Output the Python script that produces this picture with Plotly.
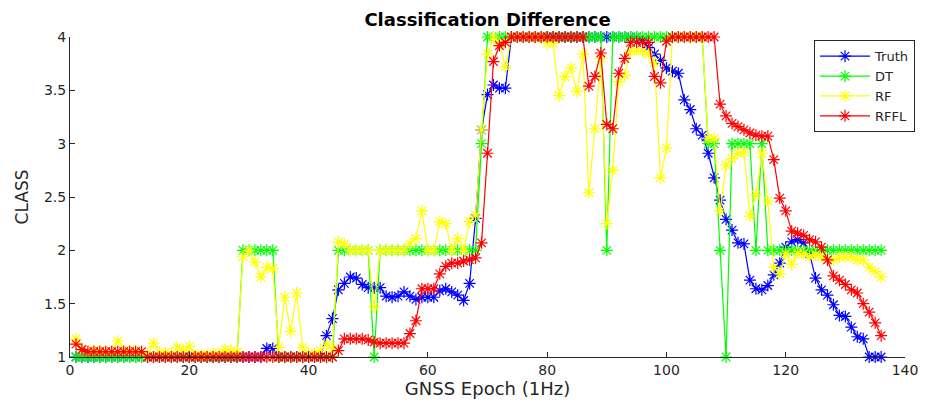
import plotly.graph_objects as go

epochs = list(range(1, 137))

truth = [
    1, 1, 1, 1, 1, 1, 1, 1, 1, 1,
    1, 1, 1, 1, 1, 1, 1, 1, 1, 1,
    1, 1, 1, 1, 1, 1, 1, 1, 1, 1,
    1, 1, 1.08, 1.08, 1, 1, 1, 1, 1, 1,
    1, 1, 1.2, 1.36, 1.63, 1.69, 1.75, 1.74, 1.68, 1.65,
    1.65, 1.65, 1.57, 1.56, 1.57, 1.61, 1.57, 1.54, 1.56, 1.56,
    1.56, 1.62, 1.64, 1.61, 1.58, 1.53, 1.69, 2.3, 3.13, 3.46,
    3.55, 3.52, 3.52, 4, 4, 4, 4, 4, 4, 4,
    4, 4, 4, 4, 4, 4, 4, 4, 4, 4,
    4, 4, 4, 4, 4, 3.97, 3.9, 3.84, 3.78, 3.71,
    3.68, 3.66, 3.41, 3.32, 3.14, 3.08, 2.91, 2.68, 2.47, 2.29,
    2.19, 2.07, 2.06, 1.72, 1.64, 1.63, 1.67, 1.77, 1.88, 2.03,
    2.08, 2.1, 2.07, 1.97, 1.74, 1.63, 1.58, 1.49, 1.39, 1.38,
    1.28, 1.19, 1.17, 1, 1, 1,
]

dt = [
    1, 1, 1, 1, 1, 1, 1, 1, 1, 1,
    1, 1, 1, 1, 1, 1, 1, 1, 1, 1,
    1, 1, 1, 1, 1, 1, 1, 1, 2, 2,
    2, 2, 2, 2, 1, 1, 1, 1, 1, 1,
    1, 1, 1, 1, 2, 2, 2, 2, 2, 2,
    1, 2, 2, 2, 2, 2, 2, 2, 2, 2,
    2, 2, 2, 2, 2, 2, 2, 2, 3, 4,
    4, 4, 4, 4, 4, 4, 4, 4, 4, 4,
    4, 4, 4, 4, 4, 4, 4, 4, 4, 2,
    4, 4, 4, 4, 4, 4, 4, 4, 4, 4,
    4, 4, 4, 4, 4, 4, 3, 3, 2, 1,
    3, 3, 3, 3, 2, 3, 2, 2, 2, 2,
    2, 2, 2, 2, 2, 2, 2, 2, 2, 2,
    2, 2, 2, 2, 2, 2,
]

rf = [
    1.17, 1.07, 1.05, 1.06, 1.06, 1.05, 1.05, 1.15, 1.06, 1.06,
    1.06, 1.05, 1.02, 1.13, 1.04, 1.04, 1.03, 1.09, 1.06, 1.1,
    1.02, 1.02, 1.02, 1.03, 1.03, 1.07, 1.06, 1.05, 1.94, 2.0,
    1.89, 1.75, 1.84, 1.83, 1.09, 1.56, 1.24, 1.6, 1.09, 1.03,
    1.03, 1.06, 1.12, 1.08, 2.08, 2.06, 2, 2, 2, 2,
    1.47, 2, 2, 2, 2, 2, 2.06, 2.11, 2.37, 2,
    2, 2.27, 2.25, 2, 2.11, 2, 2.27, 2.33, 3.13, 3.84,
    4, 3.94, 3.72, 4, 4, 4, 4, 4, 4, 3.94,
    3.94, 3.45, 3.63, 3.71, 3.49, 3.84, 2.54, 3.14, 3.8, 2.25,
    2.75, 3.58, 3.64, 3.87, 3.87, 3.87, 3.84, 3.76, 2.68, 2.96,
    4, 4, 4, 4, 4, 4, 3.05, 3.05, 2.37, 2.8,
    2.86, 2.91, 2.92, 2.32, 2.52, 2.91, 2.46, 1.84, 1.78, 1.97,
    1.87, 1.97, 1.97, 1.94, 1.96, 1.94, 1.91, 1.91, 1.94, 1.94,
    1.94, 1.91, 1.91, 1.84, 1.8, 1.75,
]

rffl = [
    1.12, 1.07, 1.05, 1.05, 1.05, 1.05, 1.05, 1.05, 1.05, 1.05,
    1.05, 1.05, 1, 1, 1, 1, 1, 1, 1, 1,
    1, 1, 1, 1, 1, 1, 1, 1, 1, 1,
    1, 1, 1, 1, 1, 1, 1, 1, 1, 1,
    1, 1, 1, 1, 1.06, 1.17, 1.17, 1.17, 1.17, 1.16,
    1.14, 1.13, 1.13, 1.13, 1.13, 1.13, 1.22, 1.34, 1.64, 1.64,
    1.64, 1.78, 1.85, 1.88, 1.88, 1.9, 1.91, 1.93, 2.07, 2.91,
    3.77, 3.92, 3.95, 4, 4, 4, 4, 4, 4, 4,
    4, 4, 4, 4, 4, 4, 3.54, 3.63, 3.85, 3.18,
    3.14, 3.66, 3.8, 3.95, 3.95, 3.95, 3.95, 3.63, 3.57, 3.96,
    4, 4, 4, 4, 4, 4, 4, 4, 3.37, 3.26,
    3.19, 3.16, 3.13, 3.1, 3.08, 3.07, 3.07, 2.85, 2.49, 2.37,
    2.18, 2.16, 2.14, 2.1, 2.08, 2.03, 1.91, 1.76, 1.72, 1.68,
    1.63, 1.6, 1.5, 1.42, 1.32, 1.2,
]

series_names = ["Truth", "DT", "RF", "RFFL"]
series_values = [truth, dt, rf, rffl]
series_colors = ["#0000FF", "#00FF00", "#FFFF00", "#FF0000"]

x_ticks = [0, 20, 40, 60, 80, 100, 120, 140]
y_ticks = [1, 1.5, 2, 2.5, 3, 3.5, 4]
y_tick_labels = ["1", "1.5", "2", "2.5", "3", "3.5", "4"]

FONT = "DejaVu Sans"
AX = "#262626"

fig = go.Figure()
for name, vals, col in zip(series_names, series_values, series_colors):
    fig.add_trace(go.Scatter(
        x=epochs, y=vals, name=name, mode="lines+markers",
        line=dict(color=col, width=1.2),
        marker=dict(symbol="asterisk-open", size=10, color=col,
                    line=dict(color=col, width=1.2)),
        cliponaxis=False,
    ))

fig.update_layout(
    width=930, height=408,
    margin=dict(l=70, r=17, t=37, b=51),
    paper_bgcolor="white", plot_bgcolor="white",
    font=dict(family=FONT, color=AX, size=14),
    title=dict(text="<b>Classification Difference</b>", x=0.5, xref="paper",
               xanchor="center", y=1 - 20 / 408, yref="container", yanchor="middle",
               font=dict(family=FONT, size=18, color="#000000")),
    showlegend=True,
    legend=dict(x=1.012, xanchor="right", y=0.99, yanchor="top",
                bgcolor="white", bordercolor=AX, borderwidth=1,
                font=dict(family=FONT, size=13, color=AX),
                itemwidth=50, tracegroupgap=0),
    xaxis=dict(range=[0, 140], tickvals=x_ticks, showline=True, linecolor=AX,
               linewidth=1, ticks="inside", ticklen=5, tickcolor=AX,
               showgrid=False, zeroline=False, mirror=False,
               tickfont=dict(family=FONT, size=14, color=AX),
               title=dict(text="GNSS Epoch (1Hz)", standoff=5,
                          font=dict(family=FONT, size=18, color=AX))),
    yaxis=dict(range=[1, 4], tickvals=y_ticks, ticktext=y_tick_labels,
               showline=True, linecolor=AX, linewidth=1, ticks="inside",
               ticklen=5, tickcolor=AX, showgrid=False, zeroline=False,
               mirror=False, tickfont=dict(family=FONT, size=14, color=AX),
               title=dict(text="CLASS", standoff=10,
                          font=dict(family=FONT, size=17, color=AX))),
)

fig.write_html("out.html")
